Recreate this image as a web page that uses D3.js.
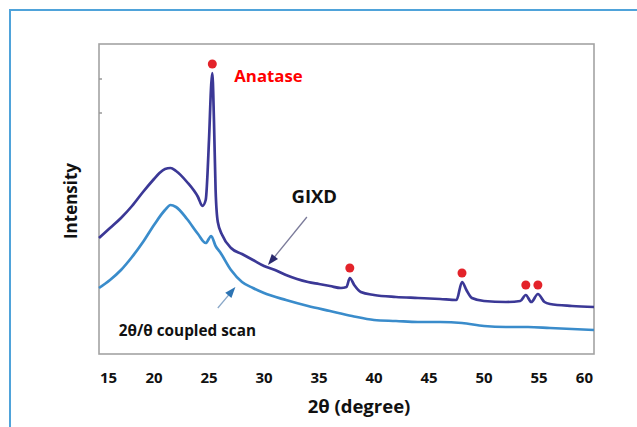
<!DOCTYPE html>
<html><head><meta charset="utf-8">
<script src="https://cdn.jsdelivr.net/npm/d3@7"></script>
<style>
html,body{margin:0;padding:0;background:#fff;}
svg{display:block;}
text{font-family:"Open Sans","Noto Sans",sans-serif;font-weight:700;}
</style></head>
<body>
<script>
// 2θ (degree) positions and intensities (arbitrary units)
const gixdTheta = [15,16,17,18,19,20,20.5,21,21.5,22,23,24,24.4,24.7,25.0,25.2,25.3,25.45,25.6,25.8,26.2,27,28,29,30,31,32,33,34,35,36,37,37.5,37.8,38.2,38.8,40,42,44,46,47.5,48.0,48.4,48.9,50,52,53.3,53.8,54.3,54.9,55.5,56,58,60];
const gixdValue = [116,126,136,148,162,175,181,185,186,183,172,157,148,154,214,269,281,234,164,132,119,106,100,94,88,84,79,75,72,70,68,66,67,76,69,62,59,57,56,55,54,72,64,56,53,52,53,59,52,60,52,50,48,47];
const coupledTheta = [15,16,17,18,19,20,21,21.5,22,23,24,24.7,25.2,25.6,26,27,28,29,30,32,34,36,38,40,42,44,46,48,50,52,54,56,58,60];
const coupledValue = [66,74,84,97,112,129,144,149,147,135,120,111,118,108,102,84,72,66,61,54,48,43,38,34,33,32,32,31,28,27,27,26,25,24];
const anataseTheta = [25.3,37.8,48.0,53.8,54.9];
const anataseValue = [290,86,81,69,69];
const xTicks = [15,20,25,30,35,40,45,50,55,60];
const yTicks = [241,275];

const W=637,H=427;
const svg=d3.select("body").append("svg").attr("width",W).attr("height",H);
const x=d3.scaleLinear().domain([15,60]).range([99,594]);
const y=d3.scaleLinear().domain([0,310]).range([354,44]);

// outer blue border
svg.append("rect").attr("x",10).attr("y",10).attr("width",700).attr("height",500)
  .attr("fill","none").attr("stroke","#4fa3da").attr("stroke-width",2);

// frame
svg.append("rect").attr("x",x(15)).attr("y",y(310)).attr("width",x(60)-x(15)).attr("height",y(0)-y(310))
  .attr("fill","#fff").attr("stroke","#a3a3a3").attr("stroke-width",1.6);

// y ticks (inside)
svg.selectAll(".yt").data(yTicks).join("line")
  .attr("x1",x(15)).attr("x2",x(15)+3).attr("y1",d=>y(d)).attr("y2",d=>y(d))
  .attr("stroke","#999").attr("stroke-width",1.5);

const line=d3.line().curve(d3.curveMonotoneX);
const gixd=gixdTheta.map((t,i)=>[x(t),y(gixdValue[i])]);
const coupled=coupledTheta.map((t,i)=>[x(t),y(coupledValue[i])]);

svg.append("path").attr("d",line(coupled)).attr("fill","none")
  .attr("stroke","#3a8ccb").attr("stroke-width",2.7).attr("stroke-linejoin","round");
svg.append("path").attr("d",line(gixd)).attr("fill","none")
  .attr("stroke","#3b3896").attr("stroke-width",2.7).attr("stroke-linejoin","round");

// anatase markers
svg.selectAll(".dot").data(anataseTheta).join("circle")
  .attr("cx",d=>x(d)).attr("cy",(d,i)=>y(anataseValue[i])).attr("r",4.5).attr("fill","#e3232a");

// arrows
function arrow(t0,v0,t1,v1,lineColor,headColor){
  const x0=x(t0),y0=y(v0),x1=x(t1),y1=y(v1);
  const a=Math.atan2(y1-y0,x1-x0), L=11, w=4;
  svg.append("line").attr("x1",x0).attr("y1",y0).attr("x2",x1-Math.cos(a)*6).attr("y2",y1-Math.sin(a)*6)
    .attr("stroke",lineColor).attr("stroke-width",1.3);
  const bx=x1-Math.cos(a)*L, by=y1-Math.sin(a)*L;
  const px=-Math.sin(a)*w, py=Math.cos(a)*w;
  svg.append("path").attr("d",`M${x1},${y1}L${bx+px},${by+py}L${bx-px},${by-py}Z`).attr("fill",headColor);
}
arrow(33.9,137,30.36,89,"#7b7b9a","#2b2a6e");

// white label box for coupled scan
svg.append("rect").attr("x",x(15)+1).attr("y",y(46)).attr("width",x(31.9)-x(15)).attr("height",y(1)-y(46))
  .attr("fill","#fff");
arrow(25.8,46,27.4,67,"#8aa8c8","#2d74b3");

// texts
svg.append("text").attr("x",x(25.3)+22).attr("y",y(272)).attr("fill","#ff0000").attr("font-size",16.8).text("Anatase");
svg.append("text").attr("x",x(32.5)).attr("y",y(151)).attr("fill","#111").attr("font-size",18.5).text("GIXD");
svg.append("text").attr("x",x(16.8)).attr("y",y(18)).attr("fill","#111").attr("font-size",15.3).text("2θ/θ coupled scan");

// x tick labels
svg.selectAll(".xt").data(xTicks).join("text")
  .attr("x",d=>d===15?x(d)+1:(d===60?x(d)-1:x(d)))
  .attr("y",383)
  .attr("text-anchor",d=>d===15?"start":(d===60?"end":"middle"))
  .attr("font-size",15).attr("fill","#111").text(d=>d);

svg.append("text").attr("x",359).attr("y",413).attr("text-anchor","middle")
  .attr("font-size",18.5).attr("fill","#111").text("2θ (degree)");
svg.append("text").attr("transform","translate(77,201) rotate(-90)").attr("text-anchor","middle")
  .attr("font-size",17).attr("fill","#111").text("Intensity");
</script>
</body></html>
